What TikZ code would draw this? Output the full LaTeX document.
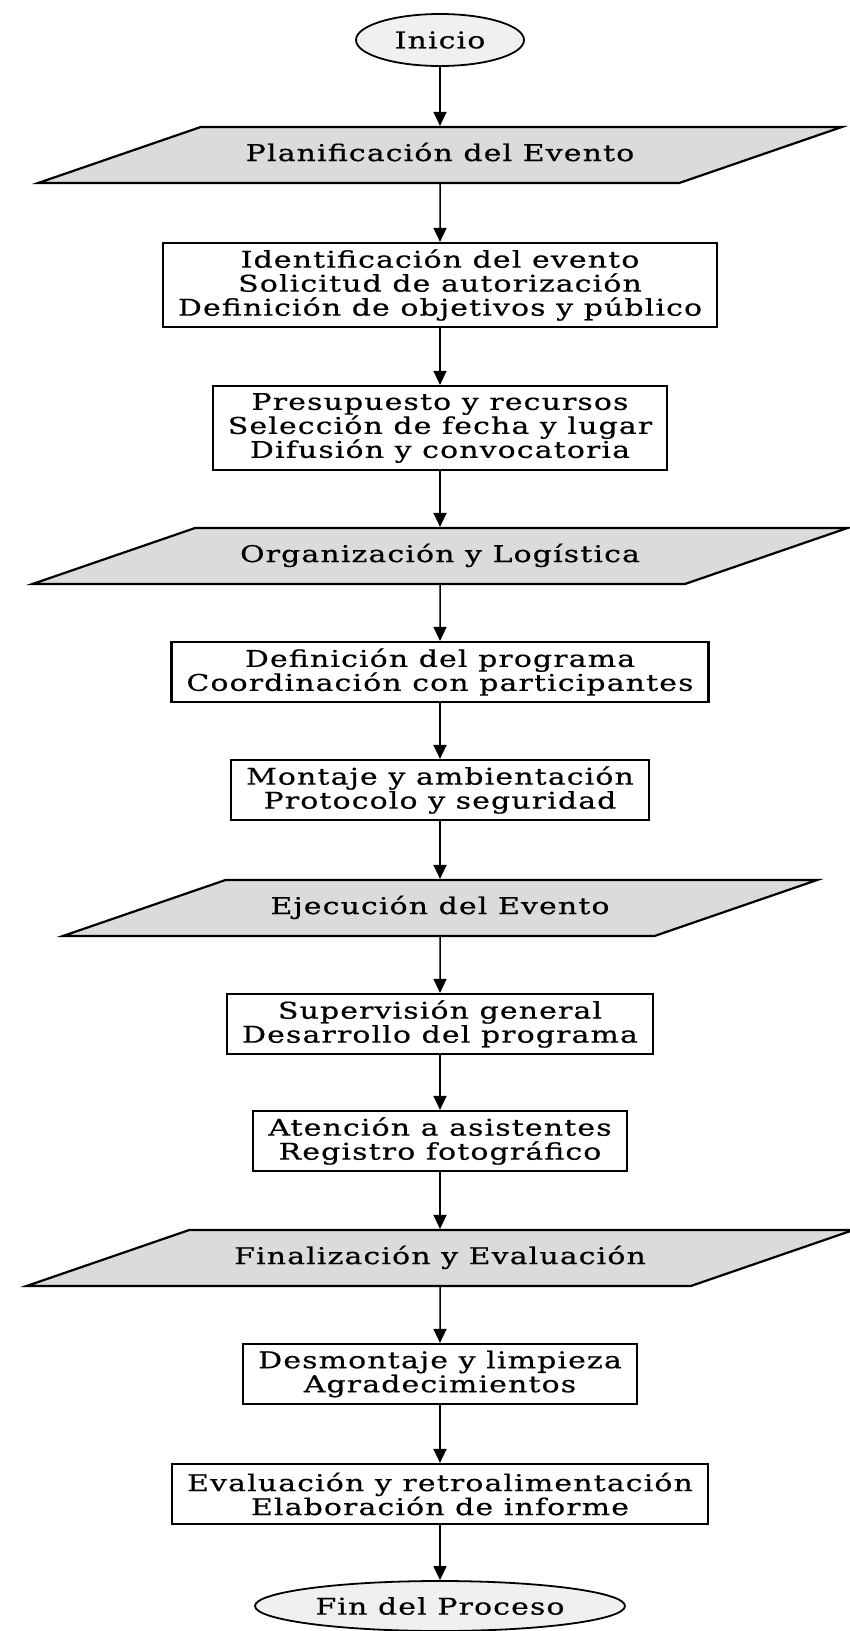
\documentclass[tikz,border=0pt]{standalone}
\usepackage{fontspec}
\setmainfont[FakeStretch=1.3,LetterSpace=5,FakeBold=0.6]{DejaVu Serif}
\usetikzlibrary{shapes.geometric,arrows.meta}
\newcommand{\cx}{440}

\begin{document}
\begin{tikzpicture}[x=1pt, y=1pt,
    every node/.style={font=\fontsize{23pt}{24pt}\selectfont},
    term/.style={draw, ellipse, fill=gray!12, line width=1.8pt, inner sep=2pt},
    io/.style={draw, trapezium, trapezium left angle=19, trapezium right angle=161, fill=gray!28, line width=2.2pt, inner xsep=45pt, inner ysep=17pt, text height=17pt, text depth=5pt},
    box/.style={draw, rectangle, line width=2.2pt, align=center, inner xsep=15pt, inner ysep=6pt, minimum height=60pt},
    arrow/.style={line width=1.5pt, -{Triangle[length=14pt,width=13pt]}}]
    \useasboundingbox (0,0) rectangle (850,-1631);

    % Planificacion
    \node[term, minimum width=168pt, minimum height=52pt] (inicio) at (\cx,-40) {Inicio};
    \node[io] (io-1) at (\cx,-155) {Planificación del Evento};
    \node[box, minimum height=84pt] (box-1) at (\cx,-285) {Identificación del evento\\Solicitud de autorización\\Definición de objetivos y público};
    \node[box, minimum height=84pt] (box-2) at (\cx,-428) {Presupuesto y recursos\\Selección de fecha y lugar\\Difusión y convocatoria};

    % Organizacion
    \node[io] (io-2) at (\cx,-556) {Organización y Logística};
    \node[box] (box-3) at (\cx,-672) {Definición del programa\\Coordinación con participantes};
    \node[box] (box-4) at (\cx,-790) {Montaje y ambientación\\Protocolo y seguridad};

    % Ejecucion
    \node[io] (io-3) at (\cx,-908) {Ejecución del Evento};
    \node[box] (box-5) at (\cx,-1024) {Supervisión general\\Desarrollo del programa};
    \node[box] (box-6) at (\cx,-1141) {Atención a asistentes\\Registro fotográfico};

    % Finalizacion
    \node[io] (io-4) at (\cx,-1258) {Finalización y Evaluación};
    \node[box] (box-7) at (\cx,-1374) {Desmontaje y limpieza\\Agradecimientos};
    \node[box] (box-8) at (\cx,-1494) {Evaluación y retroalimentación\\Elaboración de informe};
    \node[term, minimum width=370pt, minimum height=50pt] (fin) at (\cx,-1606) {Fin del Proceso};

    \draw[arrow] (inicio) -- (io-1);
    \draw[arrow] (io-1) -- (box-1);
    \draw[arrow] (box-1) -- (box-2);
    \draw[arrow] (box-2) -- (io-2);
    \draw[arrow] (io-2) -- (box-3);
    \draw[arrow] (box-3) -- (box-4);
    \draw[arrow] (box-4) -- (io-3);
    \draw[arrow] (io-3) -- (box-5);
    \draw[arrow] (box-5) -- (box-6);
    \draw[arrow] (box-6) -- (io-4);
    \draw[arrow] (io-4) -- (box-7);
    \draw[arrow] (box-7) -- (box-8);
    \draw[arrow] (box-8) -- (fin);
\end{tikzpicture}
\end{document}
